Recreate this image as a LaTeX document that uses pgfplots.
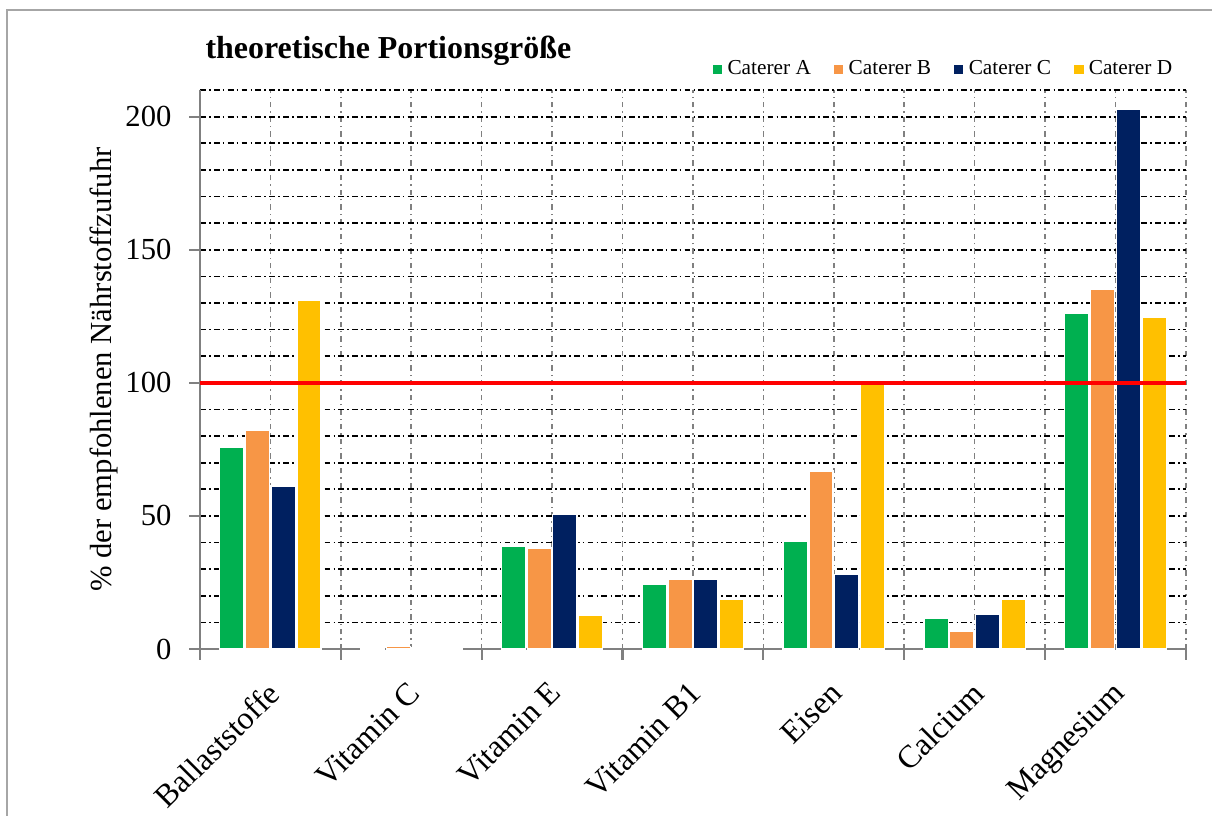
\documentclass[border=0pt]{standalone}
\usepackage{pgfplots}
\pgfplotsset{compat=1.18}
\usepackage{fontspec}
\setmainfont{Liberation Serif}
\definecolor{catA}{HTML}{00B050}
\definecolor{catB}{HTML}{F79646}
\definecolor{catC}{HTML}{002060}
\definecolor{catD}{HTML}{FFC000}

\begin{document}
\begin{tikzpicture}
\useasboundingbox (0,0) rectangle (16cm,10.759cm);
% outer chart frame
\draw[gray!70, line width=0.6pt] (0.092cm,-0.5cm) -- (0.092cm,10.627cm) -- (16.5cm,10.627cm);
\begin{axis}[
  name=ax,
  at={(2.640cm,2.191cm)}, anchor=south west,
  scale only axis,
  width=13.016cm, height=7.379cm,
  xmin=-0.5, xmax=6.5,
  ymin=0, ymax=210,
  axis x line*=bottom, axis y line*=left,
  axis line style={gray, line width=0.8pt},
  xtick={0,...,6},
  xticklabels={Ballaststoffe,Vitamin C,Vitamin E,Vitamin B1,Eisen,Calcium,Magnesium},
  minor xtick={-0.5,0.5,...,6.5},
  ytick={0,50,...,200},
  minor ytick={10,20,...,210},
  tick align=outside,
  major tick length=4pt, minor tick length=4pt,
  major x tick style={draw=none},
  minor x tick style={draw=gray, line width=0.8pt},
  minor y tick style={draw=none},
  major y tick style={draw=gray, line width=0.8pt},
  xmajorgrids, xminorgrids, ymajorgrids, yminorgrids,
  every axis x grid/.style={gray, line width=0.6pt, dash pattern=on 2pt off 1.5pt on 0.5pt off 1.5pt},
  every axis y grid/.style={black, line width=0.65pt, dash pattern=on 2.2pt off 1.2pt on 0.6pt off 1.2pt},
  /pgf/number format/assume math mode=true,
  ticklabel style={font=\fontsize{11.5}{13}\selectfont},
  yticklabel style={xshift=-3.2pt},
  xticklabel style={font=\fontsize{12}{14}\selectfont, rotate=45, anchor=north east, inner sep=1pt, xshift=-5.5pt, yshift=-3pt},
  ylabel={\% der empfohlenen Nährstoffzufuhr},
  ylabel style={font=\fontsize{11.5}{13}\selectfont, at={(axis description cs:-0.097,0.5)}, anchor=center},
  ybar, bar width=0.172,
  legend columns=4,
  legend style={draw=none, fill=none, font=\fontsize{8}{9}\selectfont,
    at={(0.992,1.036)}, anchor=east, inner xsep=0pt,
    /tikz/every even column/.append style={column sep=6.8pt}},
  legend image code/.code={\draw[#1,draw=none] (0cm,-0.06cm) rectangle (0.12cm,0.06cm);},
]
\addplot[fill=catA, draw=white, line width=0.5pt, bar shift=-0.274] coordinates {
  (0,75.9) (1,0.8) (2,38.7) (3,24.2) (4,40.6) (5,11.7) (6,126.3)};
\addlegendentry{Caterer A}
\addplot[fill=catB, draw=white, line width=0.5pt, bar shift=-0.091] coordinates {
  (0,82.0) (1,0.9) (2,38.0) (3,26.0) (4,66.9) (5,6.8) (6,135.3)};
\addlegendentry{Caterer B}
\addplot[fill=catC, draw=white, line width=0.5pt, bar shift=0.091] coordinates {
  (0,61.2) (1,0.6) (2,50.5) (3,26.0) (4,27.9) (5,13.1) (6,202.6)};
\addlegendentry{Caterer C}
\addplot[fill=catD, draw=white, line width=0.5pt, bar shift=0.274] coordinates {
  (0,131.0) (1,0.6) (2,12.8) (3,18.8) (4,100.0) (5,18.8) (6,124.6)};
\addlegendentry{Caterer D}
\addplot[sharp plot, red, line width=1.3pt, forget plot] coordinates {(-0.5,100) (6.5,100)};
\end{axis}
\node[anchor=base west, inner sep=0pt, font=\fontsize{12}{14}\selectfont\bfseries]
  at ([xshift=0.066cm, yshift=0.422cm]ax.north west) {theoretische Portionsgröße};
\end{tikzpicture}
\end{document}
